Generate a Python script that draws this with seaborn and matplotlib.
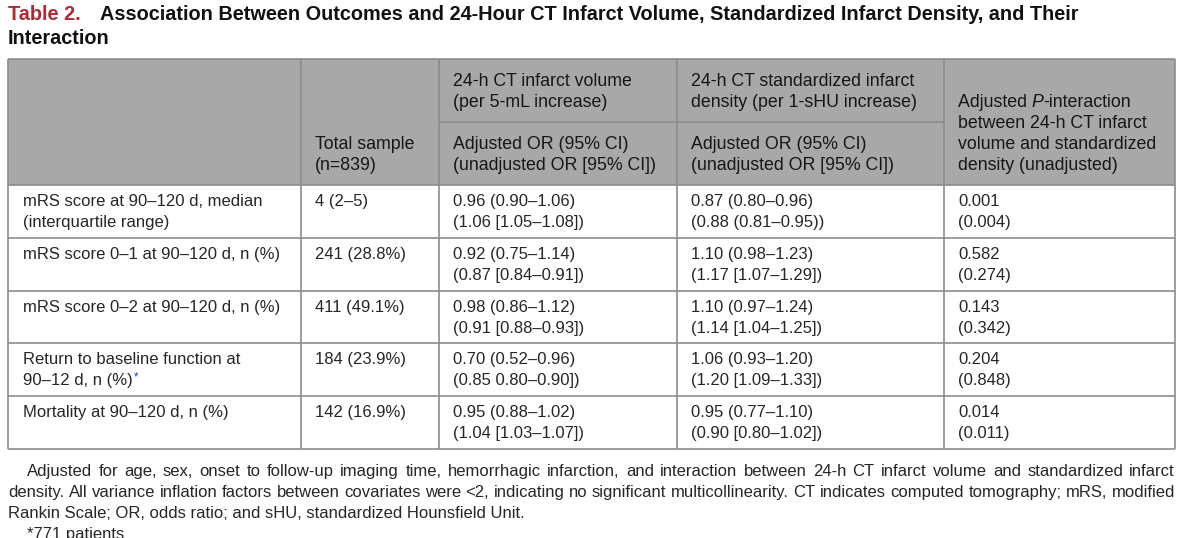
import matplotlib
matplotlib.use("Agg")
import matplotlib.pyplot as plt
import seaborn as sns

# ---------------- data ----------------
title_label = "Table 2."
title_lines = ["Association Between Outcomes and 24-Hour CT Infarct Volume, Standardized Infarct Density, and Their",
               "Interaction"]

header_total = ["Total sample", "(n=839)"]
header_volume = ["24-h CT infarct volume", "(per 5-mL increase)"]
header_density = ["24-h CT standardized infarct", "density (per 1-sHU increase)"]
header_or = ["Adjusted OR (95% CI)", "(unadjusted OR [95% CI])"]
header_p_first = ["Adjusted ", "P", "-interaction"]
header_p_rest = ["between 24-h CT infarct", "volume and standardized", "density (unadjusted)"]

outcomes = [["mRS score at 90–120 d, median", "(interquartile range)"],
            ["mRS score 0–1 at 90–120 d, n (%)"],
            ["mRS score 0–2 at 90–120 d, n (%)"],
            ["Return to baseline function at", "90–12 d, n (%)"],
            ["Mortality at 90–120 d, n (%)"]]
outcome_marks = ["", "", "", "*", ""]
total_sample = ["4 (2–5)", "241 (28.8%)", "411 (49.1%)", "184 (23.9%)", "142 (16.9%)"]
volume_adjusted = ["0.96 (0.90–1.06)", "0.92 (0.75–1.14)", "0.98 (0.86–1.12)", "0.70 (0.52–0.96)", "0.95 (0.88–1.02)"]
volume_unadjusted = ["(1.06 [1.05–1.08])", "(0.87 [0.84–0.91])", "(0.91 [0.88–0.93])", "(0.85 0.80–0.90])", "(1.04 [1.03–1.07])"]
density_adjusted = ["0.87 (0.80–0.96)", "1.10 (0.98–1.23)", "1.10 (0.97–1.24)", "1.06 (0.93–1.20)", "0.95 (0.77–1.10)"]
density_unadjusted = ["(0.88 (0.81–0.95))", "(1.17 [1.07–1.29])", "(1.14 [1.04–1.25])", "(1.20 [1.09–1.33])", "(0.90 [0.80–1.02])"]
p_adjusted = ["0.001", "0.582", "0.143", "0.204", "0.014"]
p_unadjusted = ["(0.004)", "(0.274)", "(0.342)", "(0.848)", "(0.011)"]

footnote_justified = [
    "Adjusted for age, sex, onset to follow-up imaging time, hemorrhagic infarction, and interaction between 24-h CT infarct volume and standardized infarct",
    "density. All variance inflation factors between covariates were <2, indicating no significant multicollinearity. CT indicates computed tomography; mRS, modified",
]
footnote_last = "Rankin Scale; OR, odds ratio; and sHU, standardized Hounsfield Unit."
footnote_star = "*771 patients"

# ---------------- style ----------------
sns.set_theme(style="white")
plt.rcParams['font.family'] = ['Liberation Sans', 'DejaVu Sans']

W, H = 1200, 538
fig = plt.figure(figsize=(W / 100, H / 100), dpi=100)
ax = fig.add_axes([0, 0, 1, 1])
ax.set_xlim(0, W)
ax.set_ylim(H, 0)
ax.axis("off")

TXT = "#262626"
HTXT = "#161616"
GRID = "#8c8c8c"
HEAD = "#a8a8a8"
RED = "#b02a35"
FS = 12
HFS = 12.8
TFS = 14.35
LW = 1.2

col_edges = [8, 301, 439, 677, 944, 1175]
table_top, header_mid, header_bottom = 59, 122, 185
row_h = 52.8
row_tops = [header_bottom + i * row_h for i in range(len(outcomes) + 1)]
pad = 14

renderer = fig.canvas.get_renderer()


def width_of(t):
    return t.get_window_extent(renderer).width


# title
ax.text(col_edges[0], 20, title_label, color=RED, fontsize=TFS, fontweight="bold", va="baseline")
ax.text(100, 20, title_lines[0], color="#111111", fontsize=TFS, fontweight="bold", va="baseline")
ax.text(col_edges[0], 44, title_lines[1], color="#111111", fontsize=TFS, fontweight="bold", va="baseline")

# header background
ax.fill_between([col_edges[0], col_edges[-1]], table_top, header_bottom, color=HEAD, lw=0, zorder=0)

# grid lines
ax.hlines([table_top, header_bottom] + row_tops[1:], col_edges[0], col_edges[-1], color=GRID, lw=LW)
ax.hlines(header_mid, col_edges[2], col_edges[4], color=GRID, lw=LW)
ax.vlines(col_edges, table_top, row_tops[-1], color=GRID, lw=LW)


# header texts
def put_lines(x, base, lines):
    for i, s in enumerate(lines):
        ax.text(x, base + 21 * i, s, fontsize=HFS, color=HTXT, va="baseline")


put_lines(col_edges[1] + pad, 149, header_total)
put_lines(col_edges[2] + pad, 86, header_volume)
put_lines(col_edges[3] + pad, 86, header_density)
put_lines(col_edges[2] + pad, 149, header_or)
put_lines(col_edges[3] + pad, 149, header_or)

x = col_edges[4] + pad
for piece, style in zip(header_p_first, ["normal", "italic", "normal"]):
    tt = ax.text(x, 107, piece, fontsize=HFS, color=HTXT, va="baseline", fontstyle=style)
    x += width_of(tt)
put_lines(col_edges[4] + pad, 128, header_p_rest)

# body
for i in range(len(outcomes)):
    top = row_tops[i]
    b1, b2 = top + 21, top + 42
    for j, s in enumerate(outcomes[i]):
        tt = ax.text(col_edges[0] + pad + 1, b1 + 21 * j, s, fontsize=FS, color=TXT, va="baseline")
    if outcome_marks[i]:
        ax.text(col_edges[0] + pad + 1 + width_of(tt) + 1, b1 + 21 * (len(outcomes[i]) - 1) - 5,
                outcome_marks[i], fontsize=FS * 0.7, color="#2a3bd6", va="baseline")
    ax.text(col_edges[1] + pad, b1, total_sample[i], fontsize=FS, color=TXT, va="baseline")
    ax.text(col_edges[2] + pad, b1, volume_adjusted[i], fontsize=FS, color=TXT, va="baseline")
    ax.text(col_edges[2] + pad, b2, volume_unadjusted[i], fontsize=FS, color=TXT, va="baseline")
    ax.text(col_edges[3] + pad, b1, density_adjusted[i], fontsize=FS, color=TXT, va="baseline")
    ax.text(col_edges[3] + pad, b2, density_unadjusted[i], fontsize=FS, color=TXT, va="baseline")
    ax.text(col_edges[4] + pad, b1, p_adjusted[i], fontsize=FS, color=TXT, va="baseline")
    ax.text(col_edges[4] + pad, b2, p_unadjusted[i], fontsize=FS, color=TXT, va="baseline")


# footnote (justified lines)
def justified(line, x0, x1, y):
    words = line.split(" ")
    texts = [ax.text(0, y, w, fontsize=FS, color=TXT, va="baseline") for w in words]
    widths = [width_of(tt) for tt in texts]
    gap = (x1 - x0 - sum(widths)) / (len(words) - 1)
    xx = x0
    for tt, w in zip(texts, widths):
        tt.set_x(xx)
        xx += w + gap


justified(footnote_justified[0], 27, 1175, 476)
justified(footnote_justified[1], 8, 1175, 497)
ax.text(8, 518, footnote_last, fontsize=FS, color=TXT, va="baseline")
ax.text(27, 538.5, footnote_star, fontsize=FS, color=TXT, va="baseline")

fig.savefig("out.png", dpi=100)
